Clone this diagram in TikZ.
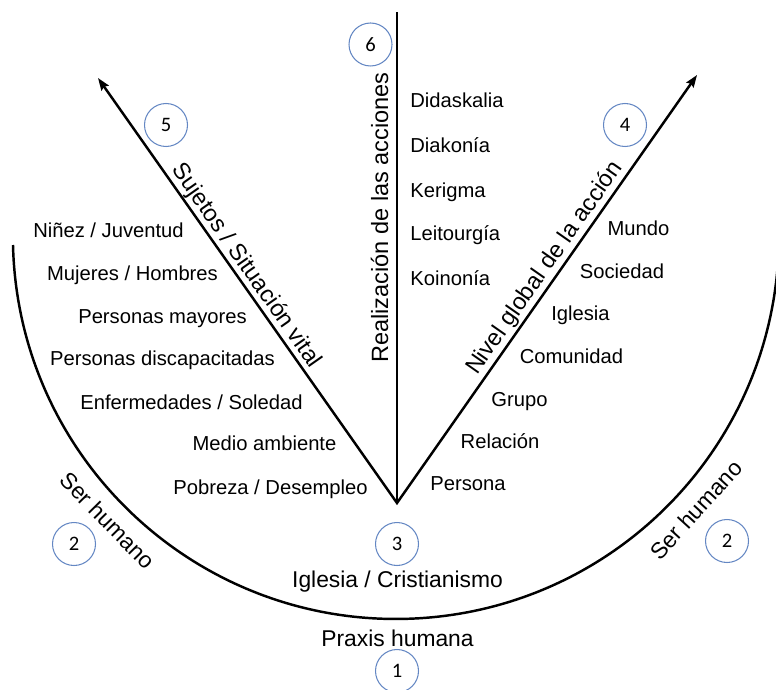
\documentclass[tikz,border=0pt]{standalone}
\usepackage{fontspec}
\setmainfont{Liberation Sans}
\newfontfamily\numfont{Carlito}
\usetikzlibrary{arrows.meta}
\definecolor{ringblue}{RGB}{100,135,195}

\begin{document}
\begin{tikzpicture}[x=0.02cm, y=-0.02cm,
    axis/.style={line width=1.4pt},
    item/.style={inner sep=0pt, anchor=base, font=\fontsize{11.5}{13}\selectfont},
    heading/.style={inner sep=0pt, anchor=base, font=\fontsize{13.4}{15}\selectfont},
    caption/.style={inner sep=0pt, anchor=base, font=\fontsize{13}{15}\selectfont},
    ring/.style={circle, draw=ringblue, line width=0.6pt, minimum size=0.86cm, inner sep=0pt,
      font=\numfont\fontsize{11.7}{13}\selectfont}]
  \useasboundingbox (0,0) rectangle (776,689);
  % axes
  \coordinate (apex) at (397,503);
  \coordinate (top) at (397,12);
  \coordinate (tip5) at (98,78);
  \coordinate (tip4) at (697,75);
  \coordinate (arcL) at (13,245);
  \draw[axis, {Stealth[length=7pt,width=5pt,inset=1pt]}-{Stealth[length=7pt,width=5pt,inset=1pt]}]
    (tip5) -- (apex) -- (tip4);
  \draw[axis] (apex) -- (top);
  \draw[axis] (arcL) arc[start angle=178.65, end angle=5, radius=383];
  % axis labels
  \node[heading, rotate=90] (realiz) at (388,217.5) {Realización de las acciones};
  \node[heading, rotate=-54.9] (sujetos) at (241,269.5) {Sujetos / Situación vital};
  \node[heading, rotate=55] (nivel) at (550,272) {Nivel global de la acción};
  \node[caption, rotate=-45.4] (serL) at (102,526) {Ser humano};
  \node[caption, rotate=47.6] (serR) at (702,515.5) {Ser humano};
  \node[caption] (iglesia) at (397.5,587) {Iglesia / Cristianismo};
  \node[caption] (praxis) at (397.5,646) {Praxis humana};
  % sujetos
  \node[item] (suj1) at (108.5,237) {Niñez / Juventud};
  \node[item] (suj2) at (132.5,280) {Mujeres / Hombres};
  \node[item] (suj3) at (162.5,323) {Personas mayores};
  \node[item] (suj4) at (162.5,365) {Personas discapacitadas};
  \node[item] (suj5) at (191.5,409) {Enfermedades / Soledad};
  \node[item] (suj6) at (264.5,450) {Medio ambiente};
  \node[item] (suj7) at (270.5,494) {Pobreza / Desempleo};
  % acciones
  \node[item, anchor=base west] (acc1) at (410,108) {Didaskalia};
  \node[item, anchor=base west] (acc2) at (410,153) {Diakonía};
  \node[item, anchor=base west] (acc3) at (410,197) {Kerigma};
  \node[item, anchor=base west] (acc4) at (410,240) {Leitourgía};
  \node[item, anchor=base west] (acc5) at (410,285) {Koinonía};
  % niveles
  \node[item] (niv1) at (638.5,235) {Mundo};
  \node[item] (niv2) at (622,278) {Sociedad};
  \node[item] (niv3) at (580.5,320) {Iglesia};
  \node[item] (niv4) at (571.5,363) {Comunidad};
  \node[item] (niv5) at (519.5,406) {Grupo};
  \node[item] (niv6) at (500,448) {Relación};
  \node[item] (niv7) at (468,490) {Persona};
  % numbers
  \node[ring] (c6) at (370.5,44.5) {6};
  \node[ring] (c5) at (166,125) {5};
  \node[ring] (c4) at (625,125) {4};
  \node[ring] (c3) at (397,544) {3};
  \node[ring] (c2a) at (74,544) {2};
  \node[ring] (c2b) at (727,541) {2};
  \node[ring] (c1) at (397,671) {1};
\end{tikzpicture}
\end{document}
